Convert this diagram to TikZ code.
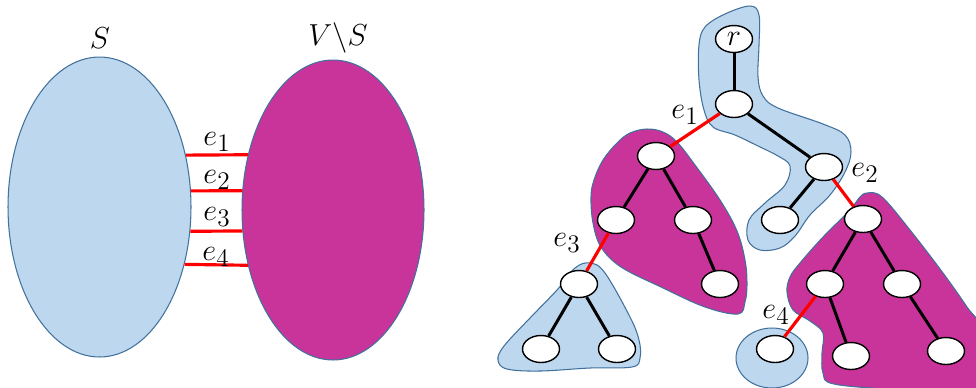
\documentclass[tikz,border=0pt]{standalone}
\usepackage{xcolor}
\usepackage{tikz}
\usetikzlibrary{shapes.geometric}
\definecolor{CBlue}{HTML}{BDD7EE}
\definecolor{CLine}{HTML}{41719C}
\definecolor{CMagenta}{HTML}{C9349A}
\definecolor{CRed}{HTML}{FF0000}

\begin{document}
\begin{tikzpicture}[
  x=0.02cm,y=-0.02cm,
  every node/.style={font=\fontsize{19}{22}\selectfont},
  part/.style={ellipse,draw=CLine,line width=0.6pt,inner sep=0pt},
  vert/.style={ellipse,draw=black,fill=white,line width=0.8pt,
    minimum width=0.74cm,minimum height=0.54cm,inner sep=0pt},
  blob/.style={draw=CLine,line width=0.6pt},
  tedge/.style={line width=1.7pt,color=black},
  cut/.style={line width=1.8pt,color=CRed},
  lbl/.style={inner sep=0pt}
]
  \useasboundingbox (0,0) rectangle (976,387);

  % the cut S | V\S
  \node[part,fill=CBlue,minimum width=3.66cm,minimum height=6cm] (S) at (99.5,207) {};
  \node[part,fill=CMagenta,minimum width=3.64cm,minimum height=6cm] (VS) at (333,210) {};
  \node[lbl] (Slbl) at (100,38) {$S$};
  \node[lbl] (VSlbl) at (338,38) {$V\backslash S$};
  \draw[cut] (S.31) -- (VS.147);
  \draw[cut] (S.10) -- (VS.168);
  \draw[cut] (S.-15) -- (VS.-167);
  \draw[cut] (S.-34) -- (VS.-147);
  \node[lbl] (cut1) at (217,142) {$e_1$};
  \node[lbl] (cut2) at (217,180) {$e_2$};
  \node[lbl] (cut3) at (217,217) {$e_3$};
  \node[lbl] (cut4) at (216,257) {$e_4$};

  % the tree and its parts
  \draw[blob,fill=CBlue] plot[smooth cycle,tension=0.6] coordinates {
    (750,6) (759,15) (759,45) (758,77) (763,96) (778,108) (823,124) (845,135)
    (851,152) (845,172) (830,195) (810,215) (795,236) (780,248) (760,250)
    (748,240) (749,220) (765,203) (785,185) (790,166) (778,156) (758,146)
    (735,135) (713,127) (704,110) (699,80) (699,45) (705,27) (725,14)};
  \draw[blob,fill=CMagenta] plot[smooth cycle,tension=0.6] coordinates {
    (647,129) (663,132) (677,142) (695,165) (720,200) (737,231) (745,260)
    (747,284) (745,302) (738,314) (705,307) (661,287) (621,267) (601,247)
    (593,223) (591,197) (594,180) (603,160) (617,143) (630,133)};
  \draw[blob,fill=CBlue] plot[smooth cycle,tension=0.6] coordinates {
    (590,263) (605,273) (630,317) (639,340) (640,358) (632,367) (590,368)
    (540,371) (507,369) (498,360) (504,346) (530,318) (557,290) (575,268)};
  \draw[blob,fill=CMagenta] plot[smooth cycle,tension=0.6] coordinates {
    (867,193) (882,197) (910,230) (943,273) (967,307) (985,335) (985,395)
    (900,390) (834,384) (823,373) (822,353) (823,333) (810,321) (793,310)
    (787,292) (790,277) (800,263) (823,237) (850,210) (859,198)};
  \node[part,fill=CBlue,minimum width=1.44cm,minimum height=1.2cm] (dblob) at (772,358) {};

  \node[vert] (r) at (734,39) {$r$};
  \node[vert] (n1) at (734,104) {};
  \node[vert] (n2) at (824,167) {};
  \node[vert] (n3) at (780,220) {};
  \node[vert] (m1) at (656,156) {};
  \node[vert] (m2) at (616,220) {};
  \node[vert] (m3) at (693,220) {};
  \node[vert] (m4) at (720,284) {};
  \node[vert] (b1) at (579,284) {};
  \node[vert] (b2) at (541,349) {};
  \node[vert] (b3) at (617,349) {};
  \node[vert] (c1) at (863,219) {};
  \node[vert] (c2) at (825,284) {};
  \node[vert] (c3) at (902,284) {};
  \node[vert] (c4) at (851,356) {};
  \node[vert] (c5) at (946,351) {};
  \node[vert] (d1) at (775,349) {};

  \foreach \a/\b in {r/n1,n1/n2,n2/n3,m1/m2,m1/m3,m3/m4,b1/b2,b1/b3,c1/c2,c1/c3,c2/c4,c3/c5}
    {\draw[tedge] (\a) -- (\b);}
  \foreach \a/\b in {n1/m1,n2/c1,m2/b1,c2/d1}
    {\draw[cut] (\a) -- (\b);}

  \node[lbl] (tcut1) at (685,115) {$e_1$};
  \node[lbl] (tcut2) at (865,173) {$e_2$};
  \node[lbl] (tcut3) at (567,243) {$e_3$};
  \node[lbl] (tcut4) at (776,315) {$e_4$};
\end{tikzpicture}
\end{document}
